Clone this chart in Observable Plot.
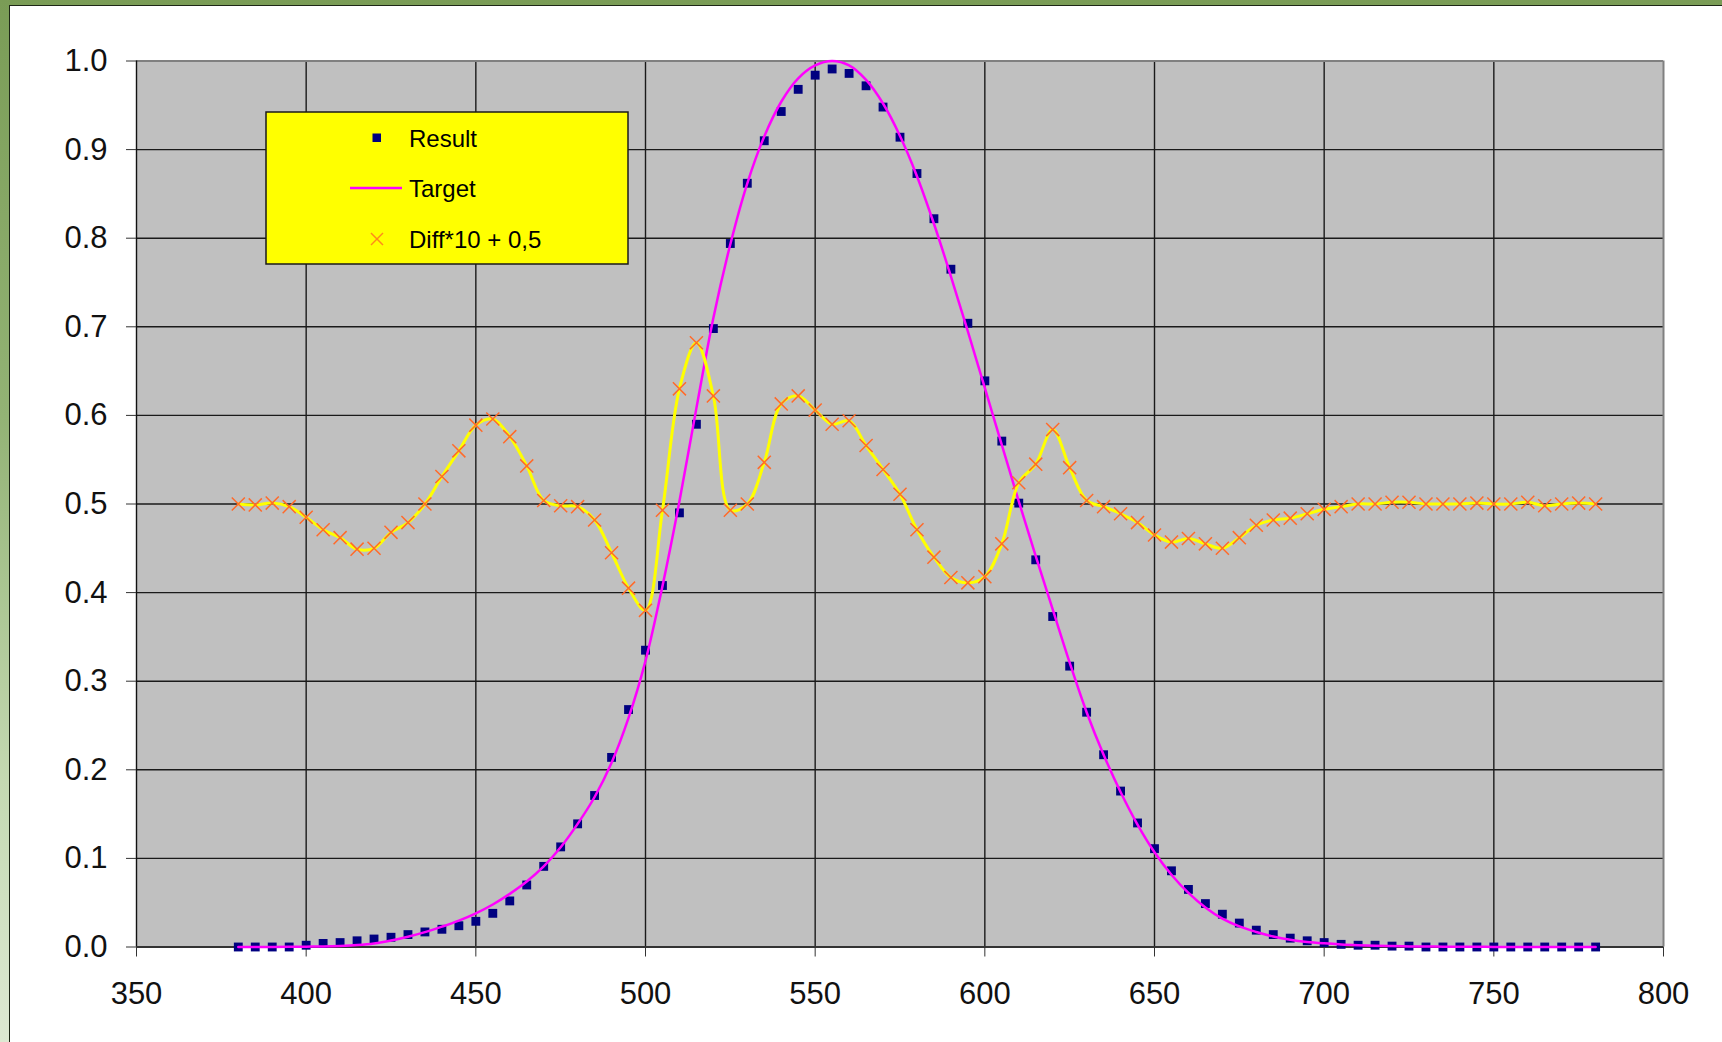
<!DOCTYPE html>
<html>
<head>
<meta charset="utf-8">
<script src="https://cdn.jsdelivr.net/npm/d3@7"></script>
<script src="https://cdn.jsdelivr.net/npm/@observablehq/plot@0.6"></script>
<style>
html, body { margin: 0; padding: 0; }
body {
  width: 1722px; height: 1042px; overflow: hidden; position: relative;
  background: linear-gradient(to bottom, #7a9c56 0%, #93b375 40%, #c4d9b2 75%, #dde9d2 100%);
  font-family: "Liberation Sans", Arial, sans-serif;
}
#panel {
  position: absolute; left: 9px; top: 5px; right: 0; bottom: 0;
  background: #ffffff;
  border-top: 1.5px solid #1d2616; border-left: 1.5px solid #1d2616;
}
#chart { position: absolute; left: 0; top: 0; }
#legend { position: absolute; left: 265px; top: 111px; }
</style>
</head>
<body>
<div id="panel"></div>
<div id="chart"></div>
<svg id="legend" width="366" height="156" font-family="Liberation Sans, Arial, sans-serif">
  <rect x="1" y="1" width="362" height="152" fill="#ffff00" stroke="#1a1a1a" stroke-width="1.5"></rect>
  <rect x="107.5" y="22.5" width="8.5" height="8.5" fill="#000080"></rect>
  <line x1="85" x2="137" y1="77" y2="77" stroke="#ff00ff" stroke-width="2.5"></line>
  <line x1="106" y1="122" x2="118" y2="134" stroke="#ff8a1a" stroke-width="1.5"></line>
  <line x1="118" y1="122" x2="106" y2="134" stroke="#ff8a1a" stroke-width="1.5"></line>
  <text x="144" y="35.5" font-size="24" fill="#000">Result</text>
  <text x="144" y="85.5" font-size="24" fill="#000">Target</text>
  <text x="144" y="137" font-size="24" fill="#000">Diff*10 + 0,5</text>
</svg>
<script>
const wavelength = [380,385,390,395,400,405,410,415,420,425,430,435,440,445,450,455,460,465,470,475,
  480,485,490,495,500,505,510,515,520,525,530,535,540,545,550,555,560,565,570,575,
  580,585,590,595,600,605,610,615,620,625,630,635,640,645,650,655,660,665,670,675,
  680,685,690,695,700,705,710,715,720,725,730,735,740,745,750,755,760,765,770,775,780];

const target = [0.0000,0.0001,0.0001,0.0002,0.0004,0.0006,0.0012,0.0022,0.0040,0.0073,
  0.0116,0.0168,0.0230,0.0298,0.0380,0.0480,0.0600,0.0739,0.0910,0.1126,
  0.1390,0.1693,0.2080,0.2586,0.3230,0.4073,0.5030,0.6082,0.7100,0.7932,
  0.8620,0.9149,0.9540,0.9804,0.9950,1.0000,0.9950,0.9786,0.9520,0.9154,
  0.8700,0.8163,0.7570,0.6949,0.6310,0.5668,0.5030,0.4412,0.3810,0.3210,
  0.2650,0.2170,0.1750,0.1382,0.1070,0.0816,0.0610,0.0446,0.0320,0.0232,
  0.0170,0.0119,0.0082,0.0057,0.0041,0.0029,0.0021,0.0015,0.0010,0.0007,
  0.0005,0.0004,0.0002,0.0002,0.0001,0.0001,0.0001,0.0000,0.0000,0.0000,0.0000];

const result = [0.000,0.000,0.000,0.000,0.002,0.004,0.005,0.007,0.009,0.011,
  0.014,0.017,0.020,0.024,0.029,0.038,0.052,0.070,0.091,0.113,
  0.139,0.171,0.214,0.268,0.335,0.408,0.490,0.590,0.698,0.794,
  0.862,0.910,0.943,0.968,0.984,0.991,0.986,0.972,0.948,0.914,
  0.873,0.822,0.765,0.704,0.639,0.571,0.501,0.437,0.373,0.317,
  0.265,0.217,0.176,0.140,0.111,0.086,0.065,0.049,0.037,0.027,
  0.019,0.014,0.010,0.007,0.005,0.003,0.002,0.002,0.001,0.001,
  0.000,0.000,0.000,0.000,0.000,0.000,0.000,0.000,0.000,0.000,0.000];

const diff = [0.500,0.499,0.501,0.497,0.485,0.471,0.462,0.449,0.450,0.468,
  0.479,0.500,0.531,0.560,0.589,0.596,0.576,0.543,0.504,0.498,
  0.497,0.482,0.445,0.405,0.380,0.493,0.630,0.682,0.622,0.493,
  0.500,0.547,0.613,0.622,0.606,0.590,0.594,0.566,0.539,0.511,
  0.471,0.440,0.417,0.411,0.418,0.455,0.524,0.545,0.584,0.541,
  0.504,0.497,0.489,0.479,0.465,0.457,0.461,0.455,0.450,0.462,
  0.476,0.482,0.484,0.489,0.494,0.497,0.500,0.500,0.502,0.502,
  0.500,0.500,0.500,0.501,0.500,0.500,0.502,0.498,0.500,0.501,0.500];

const xTicks = [350,400,450,500,550,600,650,700,750,800];
const xTickLabels = ["350","400","450","500","550","600","650","700","750","800"];
const yTicks = [0,0.1,0.2,0.3,0.4,0.5,0.6,0.7,0.8,0.9,1.0];
const yTickLabels = ["0.0","0.1","0.2","0.3","0.4","0.5","0.6","0.7","0.8","0.9","1.0"];

const rows = wavelength.map((w, i) => ({w, target: target[i], result: result[i], diff: diff[i]}));

const xMin = xTicks[0], xMax = xTicks[xTicks.length - 1];
const yMin = yTicks[0], yMax = yTicks[yTicks.length - 1];

const chart = Plot.plot({
  width: 1722,
  height: 1042,
  marginLeft: 136,
  marginRight: 59,
  marginTop: 60.5,
  marginBottom: 95.5,
  style: {
    background: "transparent",
    fontFamily: "Liberation Sans, Arial, sans-serif",
    fontSize: "31px",
    color: "#111",
    overflow: "visible"
  },
  x: {domain: [xMin, xMax]},
  y: {domain: [yMin, yMax]},
  marks: [
    Plot.frame({fill: "#c0c0c0", stroke: null}),
    Plot.gridX(xTicks.slice(1, -1), {stroke: "#1a1a1a", strokeOpacity: 1, strokeWidth: 1.4}),
    Plot.gridY(yTicks.slice(1, -1), {stroke: "#1a1a1a", strokeOpacity: 1, strokeWidth: 1.4}),
    Plot.ruleY([yMax], {stroke: "#808080", strokeWidth: 2}),
    Plot.ruleX([xMax], {stroke: "#808080", strokeWidth: 2}),
    Plot.ruleX([xMin], {stroke: "#111", strokeWidth: 1.4}),
    Plot.ruleY([yMin], {stroke: "#333", strokeWidth: 2}),
    Plot.axisX(xTicks, {tickSize: 10, tickPadding: 25, label: null, stroke: "#333",
      tickFormat: (d, i) => xTickLabels[i]}),
    Plot.axisY(yTicks, {tickSize: 10, tickPadding: 19, label: null, stroke: "#333",
      tickFormat: (d, i) => yTickLabels[i]}),
    Plot.dot(rows, {x: "w", y: "result", symbol: "square", r: 5, fill: "#000080", stroke: "none"}),
    Plot.line(rows, {x: "w", y: "target", stroke: "#ff00ff", strokeWidth: 2.5, curve: "catmull-rom"}),
    Plot.line(rows, {x: "w", y: "diff", stroke: "#ffff00", strokeWidth: 3, curve: "catmull-rom"}),
    Plot.dot(rows, {x: "w", y: "diff", symbol: "times", r: 6, stroke: "#ff6a2a", strokeWidth: 1.5})
  ]
});
document.getElementById("chart").appendChild(chart);
</script>
</body>
</html>
